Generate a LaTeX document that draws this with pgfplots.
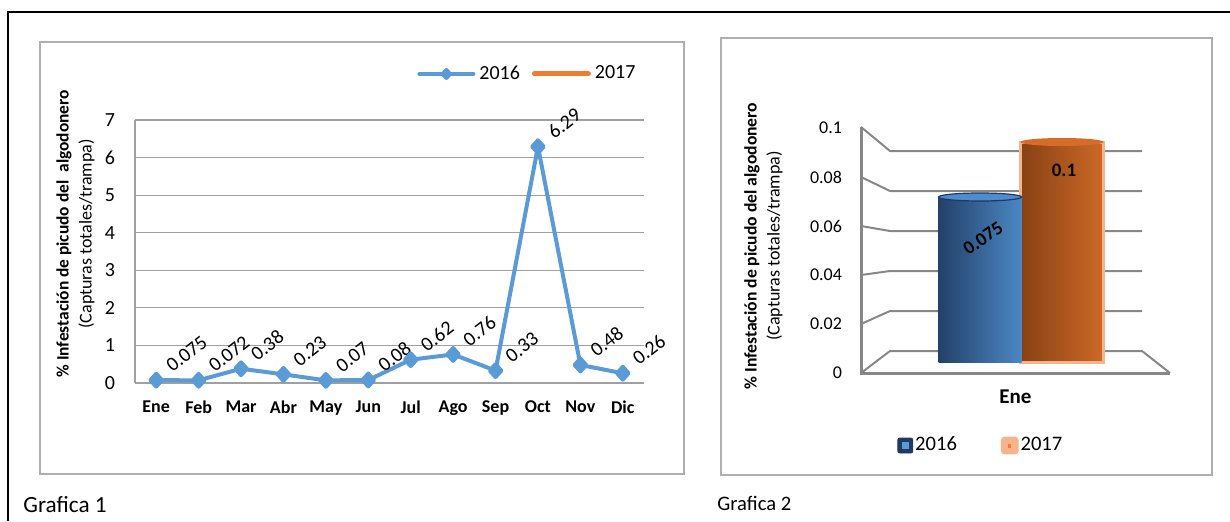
\documentclass[border=0pt]{standalone}
\usepackage{fontspec}
\setmainfont{Carlito}
\usepackage{pgfplots}
\pgfplotsset{compat=1.18}
\usetikzlibrary{shapes.geometric}

\definecolor{serie16}{RGB}{91,155,213}
\definecolor{serie17}{RGB}{237,125,49}
\definecolor{rejilla}{RGB}{160,160,160}
\definecolor{marco}{RGB}{175,175,175}
\definecolor{pared}{RGB}{135,135,135}
\definecolor{navy}{RGB}{31,56,100}
\definecolor{brillo}{RGB}{246,180,140}

\pgfplotsset{
  leyenda linea/.style={legend image code/.code={%
    \draw[##1, mark size=2pt, mark repeat=2, mark phase=2]
      plot coordinates {(0pt,0pt) (13.5pt,0pt) (27pt,0pt)};}},
  leyenda azul/.style={legend image code/.code={%
    \fill[navy, rounded corners=1pt] (0pt,-3.75pt) rectangle (7.5pt,3.75pt);
    \fill[serie16] (2.2pt,-1.5pt) rectangle (5.3pt,1.5pt);}},
  leyenda naranja/.style={legend image code/.code={%
    \fill[brillo, rounded corners=1.5pt] (0pt,-4.2pt) rectangle (8.4pt,4.2pt);
    \fill[serie17] (3.7pt,-0.7pt) rectangle (4.7pt,0.7pt);}},
}

\begin{document}
\begin{tikzpicture}
\path[use as bounding box] (0,0) rectangle (615pt,260.5pt);
\draw[line width=1.2pt] (4pt,0) -- (4pt,254.5pt) -- (615pt,254.5pt);
\draw[marco, line width=0.6pt] (20pt,23.5pt) rectangle (342pt,239.5pt);
\draw[marco, line width=0.6pt] (360.5pt,23pt) rectangle (606pt,241.5pt);
\node[anchor=base west, inner sep=0pt, font=\fontsize{11.6}{14}\selectfont] at (11.5pt,4.5pt) {Grafica 1};
\node[anchor=base west, inner sep=0pt, font=\fontsize{10.3}{12}\selectfont] at (358.5pt,5.5pt) {Grafica 2};

% Grafica 1
\begin{axis}[
  at={(67.5pt,69pt)}, anchor=south west, scale only axis,
  width=254.5pt, height=131.5pt,
  xmin=-0.5, xmax=11.5, ymin=0, ymax=7,
  xtick={0,...,11},
  xticklabels={Ene,Feb,Mar,Abr,May,Jun,Jul,Ago,Sep,Oct,Nov,Dic},
  ytick={0,...,7},
  axis lines*=left, axis line style={rejilla, line width=0.6pt},
  major tick length=0pt,
  ymajorgrids, grid style={rejilla, line width=0.6pt},
  /pgf/number format/assume math mode=true,
  yticklabel style={font=\fontsize{10}{12}\selectfont, xshift=-6.5pt},
  xticklabel style={font=\bfseries\fontsize{9}{11}\selectfont, yshift=-5.5pt},
  ylabel={{\bfseries\fontsize{8.7}{11.5}\selectfont \% Infestación de picudo del\ \ algodonero}\\(Capturas totales/trampa)},
  ylabel style={align=center, font=\fontsize{9}{11.5}\selectfont,
    at={(axis description cs:-0.117,0.567)}, anchor=center},
  legend style={at={(0.554,1.175)}, anchor=west, draw=none, fill=none,
    inner sep=0pt, font=\fontsize{10}{12}\selectfont, legend columns=2,
    /tikz/every even column/.append style={column sep=4pt}},
  clip=false,
]
\addplot[serie16, line width=2pt, line join=round, line cap=round,
  mark=diamond*, mark size=3.2pt, mark options={solid, xscale=1.2},
  leyenda linea,
  point meta=explicit symbolic, nodes near coords,
  nodes near coords style={font=\fontsize{10}{12}\selectfont, text=black,
    anchor=south west, inner sep=0.5pt, xshift=8pt, yshift=1.5pt, rotate=38}]
coordinates {
  (0,0.075)[0.075] (1,0.072)[0.072] (2,0.38)[0.38] (3,0.23)[0.23]
  (4,0.07)[0.07] (5,0.08)[0.08] (6,0.62)[0.62] (7,0.76)[0.76]
  (8,0.33)[0.33] (9,6.29)[6.29] (10,0.48)[0.48] (11,0.26)[0.26]
};
\addlegendentry{2016}
\addlegendimage{serie17, line width=2.5pt, line cap=round, leyenda linea}
\addlegendentry{2017}
\end{axis}

% Grafica 2: paredes en perspectiva
\begin{scope}[yshift=260.5pt, x=0.5pt, y=-0.5pt]
  \foreach \f/\b in {127/151,177/191,226/231,275/271,324/311}
    \draw[pared, line width=1pt] (861,\f) -- (890,\b) -- (1142,\b);
  \draw[pared, line width=1pt] (861,373) -- (890,351) -- (1142,351) -- (1170,373);
  \draw[pared, line width=1.5pt] (861,127) -- (861,373) -- (1170,373);
\end{scope}

\begin{axis}[
  at={(430.5pt,74pt)}, anchor=south west, scale only axis,
  width=154.5pt, height=122.5pt,
  xmin=-0.5, xmax=0.5, ymin=0, ymax=0.1,
  xtick={0}, xticklabels={Ene},
  ytick={0,0.02,0.04,0.06,0.08,0.1},
  yticklabels={0,0.02,0.04,0.06,0.08,0.1},
  axis line style={draw=none}, major tick length=0pt,
  yticklabel style={font=\fontsize{9}{11}\selectfont, xshift=-6pt},
  xticklabel style={font=\bfseries\fontsize{10.5}{12}\selectfont, yshift=-5pt},
  ylabel={{\bfseries\fontsize{8.8}{11.5}\selectfont \% Infestación de picudo del algodonero}\\(Capturas totales/trampa)},
  ylabel style={align=center, font=\fontsize{9}{11.5}\selectfont,
    at={(axis description cs:-0.316,0.518)}, anchor=center},
  legend style={at={(0.1165,-0.296)}, anchor=west, draw=none, fill=none,
    inner sep=0pt, font=\fontsize{10.3}{12}\selectfont, legend columns=2,
    nodes={inner sep=1pt},
    /tikz/every even column/.append style={column sep=21pt}},
]
\addlegendimage{leyenda azul}
\addlegendentry{2016}
\addlegendimage{leyenda naranja}
\addlegendentry{2017}
\end{axis}

\begin{axis}[
  at={(445pt,79.5pt)}, anchor=south west, scale only axis,
  width=126pt, height=110pt,
  xmin=-0.5, xmax=0.5, ymin=0, ymax=0.1,
  hide axis, clip=false,
]
% 2017
\addplot[ybar, bar width=41.5pt, bar shift=23pt, draw=brillo, line width=1.5pt,
  left color={rgb,255:red,135;green,65;blue,20},
  middle color={rgb,255:red,255;green,150;blue,65},
  right color={rgb,255:red,205;green,105;blue,40},
  nodes near coords={\relax},
  nodes near coords style={ellipse, anchor=center, inner sep=0pt,
    minimum width=41.5pt, minimum height=4pt, xshift=23pt,
    fill={rgb,255:red,215;green,108;blue,40}}]
coordinates {(0,0.1)};
% 2016
\addplot[ybar, bar width=41.5pt, bar shift=-18pt, draw=none,
  left color={rgb,255:red,35;green,65;blue,105},
  middle color={rgb,255:red,110;green,175;blue,235},
  right color={rgb,255:red,75;green,135;blue,195},
  nodes near coords={\relax},
  nodes near coords style={ellipse, anchor=center, inner sep=0pt,
    minimum width=41.5pt, minimum height=4pt, line width=0.6pt, xshift=-18pt,
    draw=navy, fill={rgb,255:red,80;green,140;blue,205}}]
coordinates {(0,0.075)};
% etiquetas
\addplot[ybar, bar width=41.5pt, bar shift=23pt, draw=none, fill=none,
  point meta=explicit symbolic, nodes near coords,
  nodes near coords style={anchor=center, text=black,
    font=\bfseries\fontsize{9.5}{11}\selectfont, xshift=24pt, yshift=-14pt}]
coordinates {(0,0.1)[0.1]};
\addplot[ybar, bar width=41.5pt, bar shift=-18pt, draw=none, fill=none,
  point meta=explicit symbolic, nodes near coords,
  nodes near coords style={anchor=center, text=black,
    font=\bfseries\fontsize{9.5}{11}\selectfont, xshift=-16.5pt, yshift=-20.5pt, rotate=35}]
coordinates {(0,0.075)[0.075]};
\end{axis}
\end{tikzpicture}
\end{document}
